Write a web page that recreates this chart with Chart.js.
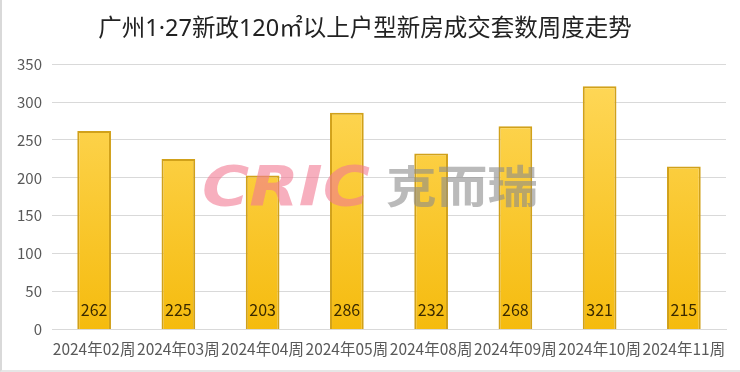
<!DOCTYPE html>
<html>
<head>
<meta charset="utf-8">
<script src="https://cdn.jsdelivr.net/npm/chart.js@4.4.0/dist/chart.umd.min.js"></script>
<style>
  html, body { margin: 0; padding: 0; background: #fff; }
  #wrap { width: 740px; height: 372px; position: relative; box-sizing: border-box; border-left: 2px solid #d9d9d9; border-bottom: 2px solid #e6e6e6; }
</style>
</head>
<body>
<div id="wrap"><canvas id="chart" width="738" height="370"></canvas></div>
<script>
var labels = ['2024年02周', '2024年03周', '2024年04周', '2024年05周', '2024年08周', '2024年09周', '2024年10周', '2024年11周'];
var values = [262, 225, 203, 286, 232, 268, 321, 215];
var yTicks = [0, 50, 100, 150, 200, 250, 300, 350];
var title = '广州1·27新政120㎡以上户型新房成交套数周度走势';

var FONT = '"Microsoft YaHei", "Noto Sans CJK SC", "Noto Sans", sans-serif';
var TITLE_FONT = '"Noto Sans", "Noto Sans CJK SC", sans-serif';

// numbers sit at the foot of each bar
var bottomLabels = {
    id: 'bottomLabels',
    afterDatasetsDraw: function(chart) {
        var ctx = chart.ctx;
        var meta = chart.getDatasetMeta(0);
        var base = chart.scales.y.getPixelForValue(0);
        ctx.save();
        ctx.font = '16px ' + FONT;
        ctx.fillStyle = '#3a2a00';
        ctx.textAlign = 'center';
        ctx.textBaseline = 'middle';
        meta.data.forEach(function(bar, i) {
            ctx.fillText(values[i], bar.x, base - 19);
        });
        ctx.restore();
    }
};

// draw text squeezed/stretched into a box
function boxText(ctx, txt, font, color, x, y, w) {
    ctx.font = font;
    var m = ctx.measureText(txt).width;
    ctx.save();
    ctx.translate(x, y);
    ctx.scale(w / m, 1);
    ctx.fillStyle = color;
    ctx.fillText(txt, 0, 0);
    ctx.restore();
}

// CRIC 克而瑞 watermark
var watermark = {
    id: 'watermark',
    afterDatasetsDraw: function(chart) {
        var ctx = chart.ctx;
        ctx.save();
        ctx.globalAlpha = 0.6;
        ctx.textBaseline = 'alphabetic';
        boxText(ctx, 'CRIC', 'italic 900 56px "DejaVu Sans", sans-serif', '#f27a92', 200, 205, 168);
        boxText(ctx, '克而瑞', 'bold 44px "Noto Sans CJK SC", sans-serif', '#8c8c8c', 384, 203, 152);
        ctx.restore();
    }
};

var ctx = document.getElementById('chart').getContext('2d');
var grad = ctx.createLinearGradient(0, 66, 0, 330);
grad.addColorStop(0, '#ffd95c');
grad.addColorStop(1, '#f5bb0e');

var myChart = new Chart(ctx, {
    type: 'bar',
    data: {
        labels: labels,
        datasets: [{
            label: '成交套数',
            data: values,
            backgroundColor: grad,
            borderColor: '#d1a11a',
            borderWidth: 2,
            borderSkipped: 'bottom',
            barPercentage: 0.4,
            categoryPercentage: 1
        }]
    },
    options: {
        responsive: false,
        animation: false,
        layout: { padding: { left: 2, right: 14, top: 0, bottom: 10 } },
        plugins: {
            legend: { display: false },
            tooltip: { enabled: false },
            title: {
                display: true,
                text: title,
                color: '#222',
                font: { size: 23.5, family: TITLE_FONT, weight: 'normal' },
                padding: { top: 15, bottom: 21 }
            }
        },
        scales: {
            x: {
                grid: { display: false },
                border: { color: '#d9d9d9' },
                ticks: {
                    color: '#595959',
                    font: { size: 15.5, family: FONT },
                    maxRotation: 0,
                    autoSkip: false,
                    padding: 2
                }
            },
            y: {
                min: 0,
                max: 350,
                afterFit: function(scale) { scale.width = 48; },
                afterBuildTicks: function(scale) {
                    scale.ticks = yTicks.map(function(v) { return { value: v }; });
                },
                grid: { color: '#d9d9d9', drawTicks: false },
                border: { display: false },
                ticks: {
                    color: '#595959',
                    font: { size: 15, family: FONT },
                    padding: 10
                }
            }
        }
    },
    plugins: [bottomLabels, watermark]
});
</script>
</body>
</html>
